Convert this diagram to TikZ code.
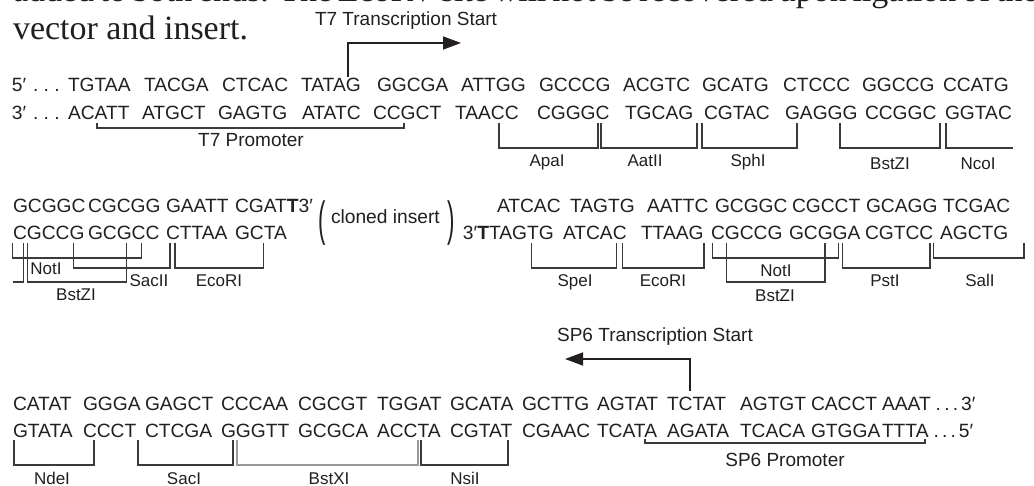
\documentclass[tikz,border=0pt]{standalone}
\usepackage{fontspec}
\setmainfont{Liberation Serif}
\newfontfamily\seqfont{Liberation Sans}
\usetikzlibrary{arrows.meta}

\definecolor{ink}{HTML}{231F20}
\definecolor{rulegray}{HTML}{3A3A3A}
\definecolor{lightgray}{HTML}{9A9A9A}

\tikzset{
  seq/.style={anchor=base west, inner sep=0pt, outer sep=0pt,
    font=\seqfont\fontsize{19.2}{19.2}\selectfont, text=ink},
  tag/.style={anchor=base, inner sep=0pt, outer sep=0pt,
    font=\seqfont\fontsize{17}{17}\selectfont, text=ink},
  note/.style={anchor=base, inner sep=0pt, outer sep=0pt,
    font=\seqfont\fontsize{19}{19}\selectfont, text=ink},
  prose/.style={anchor=base west, inner sep=0pt, outer sep=0pt,
    font=\fontsize{34}{34}\selectfont, text=ink},
  brk/.style={draw=rulegray, line width=1.2pt},
  tss/.style={draw=ink, line width=1.4pt, -{Triangle[length=18pt,width=13pt]}},
}

% bracket under a site: x-left, x-right, y-top, y-bottom
\newcommand\brkt[5][]{\draw[brk,#1] (#2,#4) |- (#3,#5) -- (#3,#4);}
% tall thin parenthesis around the insert
\newcommand\tallglyph[1]{\scalebox{1.15}[2.5]{#1}}

\begin{document}
\begin{tikzpicture}[x=1pt,y=-1pt]
\useasboundingbox (0,0) rectangle (1034,486);
\fill[white] (0,0) rectangle (1034,486);

% ---- running text of the legend ----
\begin{scope}
  \clip (0,0) rectangle (1034,486);
  \node[prose] (line1) at (13,2)
    {\makebox[1009pt][s]{added to both ends. The EcoRV site will not be recovered upon ligation of the}};
\end{scope}
\node[prose] (line2) at (13,40) {vector and insert.};

% ---- row 1 ----
\node[seq] (r1t0) at (12,92) {5′};
\node[seq] (r1td) at (33,92) {.~.~.};
\node[seq] (r1b0) at (12,120) {3′};
\node[seq] (r1bd) at (33,120) {.~.~.};
\foreach \x/\s [count=\i] in {68/TGTAA,144/TACGA,222/CTCAC,301/TATAG,377/GGCGA,461/ATTGG,
    539/GCCCG,623/ACGTC,702/GCATG,783/CTCCC,862/GGCCG,943/CCATG}
  \node[seq] (r1t\i) at (\x,92) {\s};
\foreach \x/\s [count=\i] in {68/ACATT,142/ATGCT,218/GAGTG,302/ATATC,373/CCGCT,455/TAACC,
    537/CGGGC,625/TGCAG,704/CGTAC,785/GAGGG,865/CCGGC,945/GGTAC}
  \node[seq] (r1b\i) at (\x,120) {\s};

% T7 start
\node[note] (t7lab) at (406,26) {T7 Transcription Start};
\coordinate (t7a) at (348,77);
\coordinate (t7b) at (461,43);
\draw[tss] (t7a) |- (t7b);

% row 1 sites
\brkt{97}{404}{123}{128}
\node[note] (t7p) at (251,147) {T7 Promoter};
\brkt{499}{598}{123}{148}
\brkt{601}{697}{123}{148}
\brkt{702}{797}{123}{148}
\brkt{840}{940}{123}{148}
\draw[brk] (946,123) |- (1013,148);
\node[tag] (apa) at (547,167) {ApaI};
\node[tag] (aat) at (645,167) {AatII};
\node[tag] (sph) at (748,167) {SphI};
\node[tag] (bst1) at (890,170) {BstZI};
\node[tag] (nco) at (978,170) {NcoI};

% ---- row 2 ----
\foreach \x/\s [count=\i] in {13/GCGGC,88/CGCGG,166/GAATT,235/CGAT}
  \node[seq] (r2t\i) at (\x,213) {\s};
\node[seq] (r2tT) at (r2t4.base east) {\bfseries T};
\node[seq] (r2t3) at (r2tT.base east) {3′};
\foreach \x/\s [count=\i] in {13/CGCCG,88/GCGCC,166/CTTAA,235/GCTA}
  \node[seq] (r2b\i) at (\x,240) {\s};

\node[seq] (lpar) at (318,236) {\tallglyph{(}};
\node[seq] (insert) at (331,224) {cloned insert};
\node[seq] (rpar) at (447,236) {\tallglyph{)}};

\foreach \x/\s [count=\i] in {497/ATCAC,570/TAGTG,647/AATTC,715/GCGGC,792/CGCCT,866/GCAGG,943/TCGAC}
  \node[seq] (r2u\i) at (\x,213) {\s};
\foreach \x/\s [count=\i] in {489/TAGTG,563/ATCAC,641/TTAAG,711/CGCCG,789/GCGGA,865/CGTCC,940/AGCTG}
  \node[seq] (r2v\i) at (\x,240) {\s};
\node[seq,anchor=base east] (r2vT) at (r2v1.base west) {\bfseries T};
\node[seq,anchor=base east] (r2v3) at (r2vT.base west) {3′};

% row 2 sites
\draw[brk] (12.7,282) -| (23.3,243);
\brkt{12.7}{141.7}{243}{258}
\brkt{27.3}{126.7}{243}{282}
\brkt{73.3}{170}{243}{268}
\brkt{175}{263.3}{243}{268}
\node[tag] (not1) at (46,275) {NotI};
\node[tag] (bst2) at (76,301) {BstZI};
\node[tag] (sac2) at (149,287) {SacII};
\node[tag] (eco1) at (219,287) {EcoRI};

\brkt{531.7}{616.7}{243}{268}
\brkt{622.7}{704}{243}{268}
\brkt{712.7}{838.3}{243}{258}
\brkt{726.7}{825}{243}{282}
\brkt{842.7}{930}{243}{268}
\brkt{933.3}{1024}{243}{258}
\node[tag] (spe) at (575,287) {SpeI};
\node[tag] (eco2) at (663,287) {EcoRI};
\node[tag] (not2) at (776,277) {NotI};
\node[tag] (bst3) at (775,302) {BstZI};
\node[tag] (pst) at (885,287) {PstI};
\node[tag] (sal) at (980,287) {SalI};

% ---- row 3 ----
\foreach \x/\s [count=\i] in {13/CATAT,83/GGGA,145/GAGCT,221/CCCAA,298/CGCGT,377/TGGAT,450/GCATA,
    522/GCTTG,597/AGTAT,667/TCTAT,740/AGTGT,811/CACCT,882/AAAT}
  \node[seq] (r3t\i) at (\x,410) {\s};
\node[seq] (r3td) at ([xshift=5pt]r3t13.base east) {.\,.\,.};
\node[seq] (r3t3) at ([xshift=3pt]r3td.base east) {3′};
\foreach \x/\s [count=\i] in {13/GTATA,83/CCCT,145/CTCGA,221/GGGTT,298/GCGCA,377/ACCTA,450/CGTAT,
    522/CGAAC,597/TCATA,667/AGATA,740/TCACA,811/GTGGA,882/TTTA}
  \node[seq] (r3b\i) at (\x,437) {\s};
\node[seq] (r3bd) at ([xshift=5pt]r3b13.base east) {.\,.\,.};
\node[seq] (r3b5) at ([xshift=3pt]r3bd.base east) {5′};

% SP6 start
\node[note] (sp6lab) at (655,342) {SP6 Transcription Start};
\coordinate (sp6a) at (690,391);
\coordinate (sp6b) at (565,359);
\draw[tss] (sp6a) |- (sp6b);

% row 3 sites
\brkt{14}{94}{440}{465}
\brkt{138}{233}{440}{465}
\brkt[draw=lightgray]{237}{418}{440}{465}
\brkt{421}{508}{440}{465}
\brkt{645}{925}{439}{443}
\node[tag] (nde) at (52,484) {NdeI};
\node[tag] (sac1) at (184,484) {SacI};
\node[tag] (bstx) at (329,484) {BstXI};
\node[tag] (nsi) at (465,484) {NsiI};
\node[note] (sp6p) at (785,466) {SP6 Promoter};
\end{tikzpicture}
\end{document}
